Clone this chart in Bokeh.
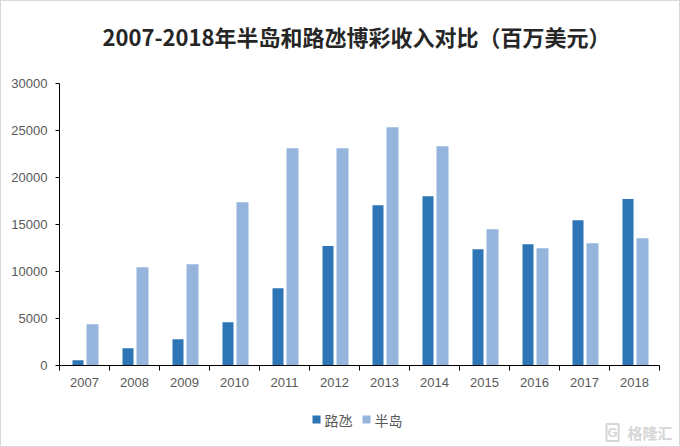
import numpy as np
from bokeh.plotting import figure
from bokeh.layouts import column
from bokeh.models import Range1d, FixedTicker, Label
from bokeh.embed import file_html
from bokeh.resources import INLINE
from bokeh.core.properties import value

# ---- data ----
years = ["2007", "2008", "2009", "2010", "2011", "2012",
         "2013", "2014", "2015", "2016", "2017", "2018"]
cotai = [570, 1840, 2800, 4610, 8230, 12700, 17060, 18010, 12380, 12910, 15460, 17700]
peninsula = [4400, 10460, 10780, 17380, 23120, 23120, 25350, 23330, 14500, 12480, 13010, 13550]
y_ticks = [0, 5000, 10000, 15000, 20000, 25000, 30000]
series_names = ["路氹", "半岛"]
title_text = "2007-2018年半岛和路氹博彩收入对比（百万美元）"
watermark = "格隆汇"
watermark_logo = "G"

dark = "#2E75B6"
light = "#95B5DD"
series_colors = [dark, light]
label_color = "#595959"

idx = np.arange(len(years))
W = 678
LEFT = 58          # left border shared by all plots of the column (frames are aligned)


def strip(h):
    # x data units == canvas pixels (frame starts at LEFT because column aligns frames)
    f = figure(width=W, height=h, output_backend="svg", toolbar_location=None,
               x_range=Range1d(LEFT, W), y_range=Range1d(0, h),
               x_axis_location=None, y_axis_location=None,
               min_border_left=LEFT, min_border_right=0, min_border_top=0, min_border_bottom=0)
    f.outline_line_color = None
    f.xgrid.visible = False
    f.ygrid.visible = False
    f.border_fill_color = "white"
    return f


# ---- title strip ----
p0 = strip(70)
p0.add_layout(Label(x=355, y=36, text=title_text, text_align="center", text_baseline="middle",
                    text_font="Noto Sans CJK SC", text_font_size="22px",
                    text_font_style="bold", text_color="#262626"))

# ---- main chart ----
n = len(years)
p = figure(width=W, height=329, output_backend="svg", toolbar_location=None,
           x_range=Range1d(0, n + 20 / 50), y_range=Range1d(0, 30000),
           min_border_left=LEFT, min_border_right=0, min_border_top=12, min_border_bottom=35)
p.outline_line_color = None
p.xgrid.visible = False
p.ygrid.visible = False
p.background_fill_color = "white"
p.border_fill_color = "white"

p.vbar(x=idx + 0.5 - 0.13, top=cotai, width=0.22, color=dark, line_color=None)
p.vbar(x=idx + 0.5 + 0.16, top=peninsula, width=0.24, color=light, line_color=None)

xa = p.xaxis[0]
xa.bounds = (0, n)
xa.ticker = FixedTicker(ticks=list(idx + 0.5), minor_ticks=list(range(n + 1)))
xa.major_label_overrides = {float(i + 0.5): y for i, y in zip(idx, years)}
xa.major_tick_out = 0
xa.major_tick_in = 0
xa.minor_tick_out = 5
xa.minor_tick_in = 0
xa.minor_tick_line_color = "black"
xa.axis_line_color = "black"
xa.major_label_standoff = 7
xa.major_label_text_font = "Liberation Sans"
xa.major_label_text_font_size = "13px"
xa.major_label_text_color = label_color

ya = p.yaxis[0]
ya.ticker = FixedTicker(ticks=y_ticks)
ya.major_tick_out = 4
ya.major_tick_in = 0
ya.minor_tick_line_color = None
ya.major_tick_line_color = "black"
ya.axis_line_color = "black"
ya.major_label_standoff = 8
ya.major_label_text_font = "Liberation Sans"
ya.major_label_text_font_size = "13px"
ya.major_label_text_color = label_color

# ---- legend strip ----
p2 = strip(46)
item_left = np.array([311, 361])          # left edge of each legend item (px)
p2.rect(x=item_left + 4, y=27, width=8, height=8, color=series_colors, line_color=None)
p2.text(x=item_left + 12, y=27, text=series_names, text_align="left", text_baseline="middle",
        text_font=value("Noto Sans CJK SC"), text_font_size="14px", text_color=label_color)

p2.add_layout(Label(x=605, y=14, text=watermark_logo, text_align="left", text_baseline="middle",
                    text_font="Liberation Sans", text_font_size="13px", text_font_style="bold",
                    text_color="#d6d6d6", border_line_color="#d6d6d6", border_line_width=2,
                    padding=1))
p2.add_layout(Label(x=626, y=14, text=watermark, text_align="left", text_baseline="middle",
                    text_font="Noto Sans CJK SC", text_font_size="15px", text_font_style="bold",
                    text_color="#d6d6d6"))

layout = column(p0, p, p2, spacing=0, styles={"border": "1px solid #d9d9d9"})
open("out.html", "w").write(file_html(layout, INLINE))
